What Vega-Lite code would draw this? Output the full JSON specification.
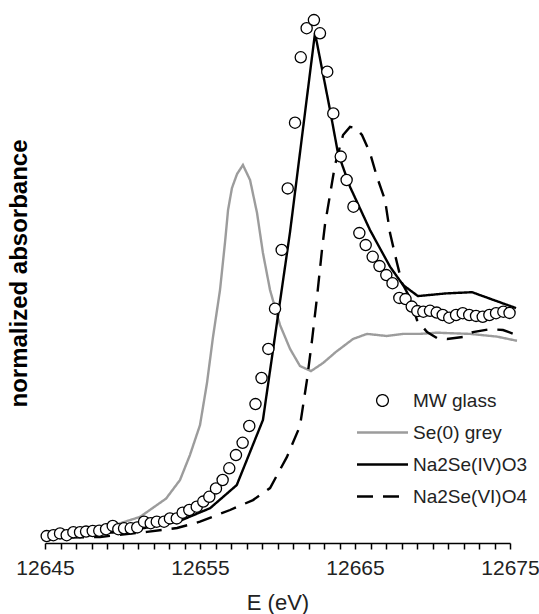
{
  "$schema": "https://vega.github.io/schema/vega-lite/v6.json",
  "width": 465,
  "height": 540,
  "autosize": {"type": "none"},
  "padding": {"left": 45, "top": 3, "right": 29, "bottom": 71},
  "background": "white",
  "config": {"view": {"stroke": null}, "font": "Liberation Sans"},
  "data": {"values": [
    {"E":12645.11,"A":0.023,"series":"MW glass"},
    {"E":12645.54,"A":0.026,"series":"MW glass"},
    {"E":12645.97,"A":0.032,"series":"MW glass"},
    {"E":12646.40,"A":0.026,"series":"MW glass"},
    {"E":12646.83,"A":0.036,"series":"MW glass"},
    {"E":12647.26,"A":0.036,"series":"MW glass"},
    {"E":12647.65,"A":0.038,"series":"MW glass"},
    {"E":12648.08,"A":0.040,"series":"MW glass"},
    {"E":12648.50,"A":0.041,"series":"MW glass"},
    {"E":12648.94,"A":0.046,"series":"MW glass"},
    {"E":12649.37,"A":0.057,"series":"MW glass"},
    {"E":12649.73,"A":0.046,"series":"MW glass"},
    {"E":12650.10,"A":0.049,"series":"MW glass"},
    {"E":12650.53,"A":0.049,"series":"MW glass"},
    {"E":12650.95,"A":0.052,"series":"MW glass"},
    {"E":12651.39,"A":0.071,"series":"MW glass"},
    {"E":12651.82,"A":0.066,"series":"MW glass"},
    {"E":12652.21,"A":0.071,"series":"MW glass"},
    {"E":12652.68,"A":0.071,"series":"MW glass"},
    {"E":12653.06,"A":0.082,"series":"MW glass"},
    {"E":12653.50,"A":0.082,"series":"MW glass"},
    {"E":12653.88,"A":0.101,"series":"MW glass"},
    {"E":12654.31,"A":0.110,"series":"MW glass"},
    {"E":12654.79,"A":0.121,"series":"MW glass"},
    {"E":12655.21,"A":0.138,"series":"MW glass"},
    {"E":12655.60,"A":0.154,"series":"MW glass"},
    {"E":12656.03,"A":0.182,"series":"MW glass"},
    {"E":12656.46,"A":0.210,"series":"MW glass"},
    {"E":12656.89,"A":0.249,"series":"MW glass"},
    {"E":12657.32,"A":0.293,"series":"MW glass"},
    {"E":12657.75,"A":0.334,"series":"MW glass"},
    {"E":12658.18,"A":0.390,"series":"MW glass"},
    {"E":12658.58,"A":0.463,"series":"MW glass"},
    {"E":12658.97,"A":0.550,"series":"MW glass"},
    {"E":12659.41,"A":0.647,"series":"MW glass"},
    {"E":12659.84,"A":0.781,"series":"MW glass"},
    {"E":12660.27,"A":0.977,"series":"MW glass"},
    {"E":12660.66,"A":1.182,"series":"MW glass"},
    {"E":12661.13,"A":1.401,"series":"MW glass"},
    {"E":12661.50,"A":1.619,"series":"MW glass"},
    {"E":12661.88,"A":1.716,"series":"MW glass"},
    {"E":12662.35,"A":1.743,"series":"MW glass"},
    {"E":12662.74,"A":1.699,"series":"MW glass"},
    {"E":12663.21,"A":1.571,"series":"MW glass"},
    {"E":12663.60,"A":1.432,"series":"MW glass"},
    {"E":12664.08,"A":1.288,"series":"MW glass"},
    {"E":12664.46,"A":1.210,"series":"MW glass"},
    {"E":12664.90,"A":1.121,"series":"MW glass"},
    {"E":12665.28,"A":1.033,"series":"MW glass"},
    {"E":12665.69,"A":0.993,"series":"MW glass"},
    {"E":12666.14,"A":0.954,"series":"MW glass"},
    {"E":12666.58,"A":0.923,"series":"MW glass"},
    {"E":12667.02,"A":0.893,"series":"MW glass"},
    {"E":12667.42,"A":0.866,"series":"MW glass"},
    {"E":12667.86,"A":0.817,"series":"MW glass"},
    {"E":12668.26,"A":0.813,"series":"MW glass"},
    {"E":12668.66,"A":0.788,"series":"MW glass"},
    {"E":12669.02,"A":0.773,"series":"MW glass"},
    {"E":12669.41,"A":0.771,"series":"MW glass"},
    {"E":12669.84,"A":0.774,"series":"MW glass"},
    {"E":12670.27,"A":0.768,"series":"MW glass"},
    {"E":12670.66,"A":0.760,"series":"MW glass"},
    {"E":12671.08,"A":0.751,"series":"MW glass"},
    {"E":12671.52,"A":0.760,"series":"MW glass"},
    {"E":12671.95,"A":0.766,"series":"MW glass"},
    {"E":12672.37,"A":0.760,"series":"MW glass"},
    {"E":12672.81,"A":0.757,"series":"MW glass"},
    {"E":12673.24,"A":0.754,"series":"MW glass"},
    {"E":12673.67,"A":0.760,"series":"MW glass"},
    {"E":12674.10,"A":0.766,"series":"MW glass"},
    {"E":12674.57,"A":0.771,"series":"MW glass"},
    {"E":12674.97,"A":0.767,"series":"MW glass"},

    {"E":12644.81,"A":0.020,"series":"Se(0) grey"},
    {"E":12647.26,"A":0.033,"series":"Se(0) grey"},
    {"E":12649.19,"A":0.055,"series":"Se(0) grey"},
    {"E":12651.13,"A":0.087,"series":"Se(0) grey"},
    {"E":12652.81,"A":0.148,"series":"Se(0) grey"},
    {"E":12653.71,"A":0.210,"series":"Se(0) grey"},
    {"E":12654.35,"A":0.293,"series":"Se(0) grey"},
    {"E":12655.00,"A":0.393,"series":"Se(0) grey"},
    {"E":12655.45,"A":0.533,"series":"Se(0) grey"},
    {"E":12655.84,"A":0.687,"series":"Se(0) grey"},
    {"E":12656.29,"A":0.843,"series":"Se(0) grey"},
    {"E":12656.61,"A":1.000,"series":"Se(0) grey"},
    {"E":12656.81,"A":1.110,"series":"Se(0) grey"},
    {"E":12657.06,"A":1.183,"series":"Se(0) grey"},
    {"E":12657.39,"A":1.230,"series":"Se(0) grey"},
    {"E":12657.77,"A":1.260,"series":"Se(0) grey"},
    {"E":12658.23,"A":1.210,"series":"Se(0) grey"},
    {"E":12658.68,"A":1.100,"series":"Se(0) grey"},
    {"E":12659.06,"A":0.967,"series":"Se(0) grey"},
    {"E":12659.52,"A":0.843,"series":"Se(0) grey"},
    {"E":12660.16,"A":0.727,"series":"Se(0) grey"},
    {"E":12660.81,"A":0.647,"series":"Se(0) grey"},
    {"E":12661.45,"A":0.590,"series":"Se(0) grey"},
    {"E":12662.16,"A":0.573,"series":"Se(0) grey"},
    {"E":12662.94,"A":0.600,"series":"Se(0) grey"},
    {"E":12663.77,"A":0.637,"series":"Se(0) grey"},
    {"E":12664.87,"A":0.680,"series":"Se(0) grey"},
    {"E":12665.77,"A":0.697,"series":"Se(0) grey"},
    {"E":12667.06,"A":0.690,"series":"Se(0) grey"},
    {"E":12668.10,"A":0.697,"series":"Se(0) grey"},
    {"E":12669.19,"A":0.697,"series":"Se(0) grey"},
    {"E":12670.29,"A":0.701,"series":"Se(0) grey"},
    {"E":12672.42,"A":0.697,"series":"Se(0) grey"},
    {"E":12674.16,"A":0.688,"series":"Se(0) grey"},
    {"E":12675.45,"A":0.674,"series":"Se(0) grey"},

    {"E":12644.81,"A":0.020,"series":"Na2Se(IV)O3"},
    {"E":12647.26,"A":0.027,"series":"Na2Se(IV)O3"},
    {"E":12649.84,"A":0.037,"series":"Na2Se(IV)O3"},
    {"E":12651.77,"A":0.053,"series":"Na2Se(IV)O3"},
    {"E":12653.71,"A":0.074,"series":"Na2Se(IV)O3"},
    {"E":12655.65,"A":0.116,"series":"Na2Se(IV)O3"},
    {"E":12657.37,"A":0.193,"series":"Na2Se(IV)O3"},
    {"E":12659.06,"A":0.410,"series":"Na2Se(IV)O3"},
    {"E":12660.81,"A":1.037,"series":"Na2Se(IV)O3"},
    {"E":12662.42,"A":1.700,"series":"Na2Se(IV)O3"},
    {"E":12663.39,"A":1.443,"series":"Na2Se(IV)O3"},
    {"E":12663.90,"A":1.300,"series":"Na2Se(IV)O3"},
    {"E":12664.68,"A":1.187,"series":"Na2Se(IV)O3"},
    {"E":12665.97,"A":1.043,"series":"Na2Se(IV)O3"},
    {"E":12667.26,"A":0.921,"series":"Na2Se(IV)O3"},
    {"E":12668.10,"A":0.860,"series":"Na2Se(IV)O3"},
    {"E":12669.06,"A":0.823,"series":"Na2Se(IV)O3"},
    {"E":12670.87,"A":0.832,"series":"Na2Se(IV)O3"},
    {"E":12672.55,"A":0.836,"series":"Na2Se(IV)O3"},
    {"E":12675.39,"A":0.783,"series":"Na2Se(IV)O3"},

    {"E":12644.81,"A":0.017,"series":"Na2Se(VI)O4"},
    {"E":12648.55,"A":0.020,"series":"Na2Se(VI)O4"},
    {"E":12651.58,"A":0.037,"series":"Na2Se(VI)O4"},
    {"E":12653.52,"A":0.050,"series":"Na2Se(VI)O4"},
    {"E":12655.00,"A":0.071,"series":"Na2Se(VI)O4"},
    {"E":12656.94,"A":0.110,"series":"Na2Se(VI)O4"},
    {"E":12658.42,"A":0.143,"series":"Na2Se(VI)O4"},
    {"E":12659.52,"A":0.183,"series":"Na2Se(VI)O4"},
    {"E":12660.61,"A":0.287,"series":"Na2Se(VI)O4"},
    {"E":12661.45,"A":0.390,"series":"Na2Se(VI)O4"},
    {"E":12661.90,"A":0.543,"series":"Na2Se(VI)O4"},
    {"E":12662.23,"A":0.677,"series":"Na2Se(VI)O4"},
    {"E":12662.55,"A":0.820,"series":"Na2Se(VI)O4"},
    {"E":12662.87,"A":0.977,"series":"Na2Se(VI)O4"},
    {"E":12663.06,"A":1.060,"series":"Na2Se(VI)O4"},
    {"E":12663.71,"A":1.260,"series":"Na2Se(VI)O4"},
    {"E":12664.23,"A":1.360,"series":"Na2Se(VI)O4"},
    {"E":12664.68,"A":1.387,"series":"Na2Se(VI)O4"},
    {"E":12665.06,"A":1.383,"series":"Na2Se(VI)O4"},
    {"E":12665.45,"A":1.360,"series":"Na2Se(VI)O4"},
    {"E":12665.97,"A":1.300,"series":"Na2Se(VI)O4"},
    {"E":12666.42,"A":1.220,"series":"Na2Se(VI)O4"},
    {"E":12666.94,"A":1.143,"series":"Na2Se(VI)O4"},
    {"E":12667.26,"A":1.033,"series":"Na2Se(VI)O4"},
    {"E":12667.71,"A":0.933,"series":"Na2Se(VI)O4"},
    {"E":12668.03,"A":0.867,"series":"Na2Se(VI)O4"},
    {"E":12668.55,"A":0.817,"series":"Na2Se(VI)O4"},
    {"E":12669.00,"A":0.743,"series":"Na2Se(VI)O4"},
    {"E":12669.65,"A":0.703,"series":"Na2Se(VI)O4"},
    {"E":12670.29,"A":0.683,"series":"Na2Se(VI)O4"},
    {"E":12670.94,"A":0.680,"series":"Na2Se(VI)O4"},
    {"E":12671.97,"A":0.687,"series":"Na2Se(VI)O4"},
    {"E":12672.61,"A":0.703,"series":"Na2Se(VI)O4"},
    {"E":12673.71,"A":0.713,"series":"Na2Se(VI)O4"},
    {"E":12674.55,"A":0.710,"series":"Na2Se(VI)O4"},
    {"E":12675.45,"A":0.693,"series":"Na2Se(VI)O4"}
  ]},
  "encoding": {
    "x": {
      "field": "E", "type": "quantitative",
      "scale": {"domain": [12645, 12675], "nice": false, "zero": false},
      "axis": {
        "title": "E (eV)",
        "values": [12645,12646,12647,12648,12649,12650,12651,12652,12653,12654,12655,12656,12657,12658,12659,12660,12661,12662,12663,12664,12665,12666,12667,12668,12669,12670,12671,12672,12673,12674,12675],
        "labelExpr": "(datum.value - 12645) % 10 === 0 ? '' + datum.value : ''",
        "grid": false,
        "domainColor": "black", "domainWidth": 1.5,
        "tickColor": "black", "tickWidth": 1.5, "tickSize": 6,
        "labelFont": "Liberation Sans", "labelFontSize": 21, "labelColor": "#222", "labelPadding": 8,
        "labelOverlap": false, "labelFlush": false,
        "titleFont": "Liberation Sans", "titleFontSize": 22, "titleFontWeight": "normal", "titleColor": "#222", "titlePadding": 14
      }
    },
    "y": {
      "field": "A", "type": "quantitative",
      "scale": {"domain": [0, 1.8], "nice": false, "zero": false},
      "axis": {
        "title": "normalized absorbance",
        "domain": false, "ticks": false, "labels": false, "grid": false,
        "titleFont": "Liberation Sans", "titleFontSize": 24, "titleFontWeight": "bold", "titleColor": "black", "titlePadding": 14
      }
    }
  },
  "layer": [
    {
      "transform": [{"filter": "datum.series !== 'MW glass'"}],
      "mark": {"type": "line", "strokeWidth": 2.4},
      "encoding": {
        "stroke": {
          "field": "series", "type": "nominal",
          "scale": {"domain": ["MW glass", "Se(0) grey", "Na2Se(IV)O3", "Na2Se(VI)O4"], "range": ["black", "#9c9c9c", "black", "black"]},
          "legend": {
            "title": null,
            "orient": "none",
            "legendX": 328,
            "legendY": 388,
            "padding": 0,
            "symbolType": "stroke",
            "symbolSize": 2601,
            "symbolStrokeWidth": 2.6,
            "labelFont": "Liberation Sans",
            "labelFontSize": 19,
            "labelColor": "#222",
            "labelOffset": 21,
            "rowPadding": 12,
            "encoding": {
              "symbols": {
                "shape": {"value": {"expr": "datum.value === 'MW glass' ? 'M0.23,0A0.23,0.23,0,1,1,-0.23,0A0.23,0.23,0,1,1,0.23,0Z' : 'stroke'"}},
                "size": {"value": 2601},
                "strokeWidth": {"value": {"expr": "datum.value === 'MW glass' ? 1.3 : 2.6"}},
                "strokeDash": {"value": {"expr": "datum.value === 'Na2Se(VI)O4' ? [15, 11] : [1, 0]"}},
                "fill": {"value": "white"},
                "opacity": {"value": 1}
              }
            }
          }
        },
        "strokeDash": {
          "field": "series", "type": "nominal",
          "scale": {"domain": ["MW glass", "Se(0) grey", "Na2Se(IV)O3", "Na2Se(VI)O4"], "range": [[1, 0], [1, 0], [1, 0], [16, 10]]},
          "legend": null
        }
      }
    },
    {
      "transform": [{"filter": "datum.series === 'MW glass'"}],
      "mark": {"type": "point", "shape": "circle", "filled": true, "fill": "white", "stroke": "black", "size": 125, "strokeWidth": 1.3, "opacity": 1}
    }
  ]
}
